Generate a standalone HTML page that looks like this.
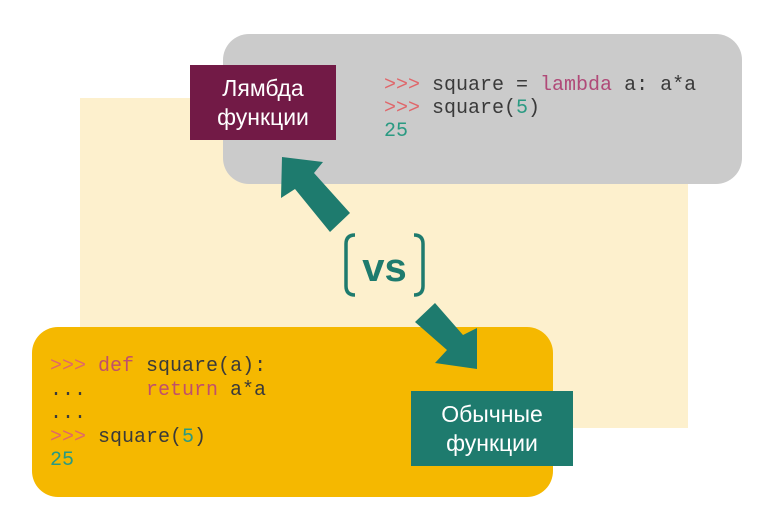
<!DOCTYPE html>
<html><head><meta charset="utf-8"><style>
html,body{margin:0;padding:0;background:#fff;}
body{width:768px;height:528px;position:relative;overflow:hidden;font-family:"Liberation Sans",sans-serif;}
.abs{position:absolute;}
.code{font-family:"Liberation Mono",monospace;font-size:20px;line-height:23px;color:#3a3a3a;white-space:pre;}
.p{color:#e0666a}.k{color:#b04a78}.n{color:#2a9a82}.k2{color:#c0506a}
.lbl{color:#fff;font-size:23px;line-height:29px;text-align:center;display:flex;align-items:center;justify-content:center;}
</style></head><body>
<div class="abs" style="left:80px;top:98px;width:608px;height:330px;background:#fdf0cd"></div>
<div class="abs" style="left:223px;top:34px;width:519px;height:150px;background:#cbcbcb;border-radius:26px"></div>
<div class="abs lbl" style="left:190px;top:65px;width:146px;height:75px;background:#721a46">Лямбда<br>функции</div>
<div class="abs code" style="left:384px;top:74px"><span class="p">&gt;&gt;&gt;</span> square = <span class="k">lambda</span> a: a*a
<span class="p">&gt;&gt;&gt;</span> square(<span class="n">5</span>)
<span class="n">25</span></div>
<div class="abs" style="left:32px;top:327px;width:521px;height:170px;background:#f5b800;border-radius:26px"></div>
<div class="abs code" style="left:50px;top:355px;line-height:23.5px"><span class="p">&gt;&gt;&gt;</span> <span class="k2">def</span> square(a):
...     <span class="k2">return</span> a*a
...
<span class="p">&gt;&gt;&gt;</span> square(<span class="n">5</span>)
<span class="n">25</span></div>
<div class="abs lbl" style="left:411px;top:391px;width:162px;height:75px;background:#1e7b6e">Обычные<br>функции</div>
<svg class="abs" style="left:0;top:0" width="768" height="528">
<polygon fill="#1e7b6e" points="282,157 323,162 314,173 350,213 330,232 295,189 281,198"/>
<polygon fill="#1e7b6e" points="477,369 435,363 447,350 415,322 435,303 463,335 477,328"/>
<path d="M355,235 Q346,235 346,244 L346,286 Q346,295 355,295" fill="none" stroke="#1e7b6e" stroke-width="3.5"/>
<path d="M414,235 Q423,235 423,244 L423,286 Q423,295 414,295" fill="none" stroke="#1e7b6e" stroke-width="3.5"/>
<text x="384.5" y="281" text-anchor="middle" font-family="Liberation Sans,sans-serif" font-weight="bold" font-size="40" fill="#1e7b6e">vs</text>
</svg>
</body></html>
